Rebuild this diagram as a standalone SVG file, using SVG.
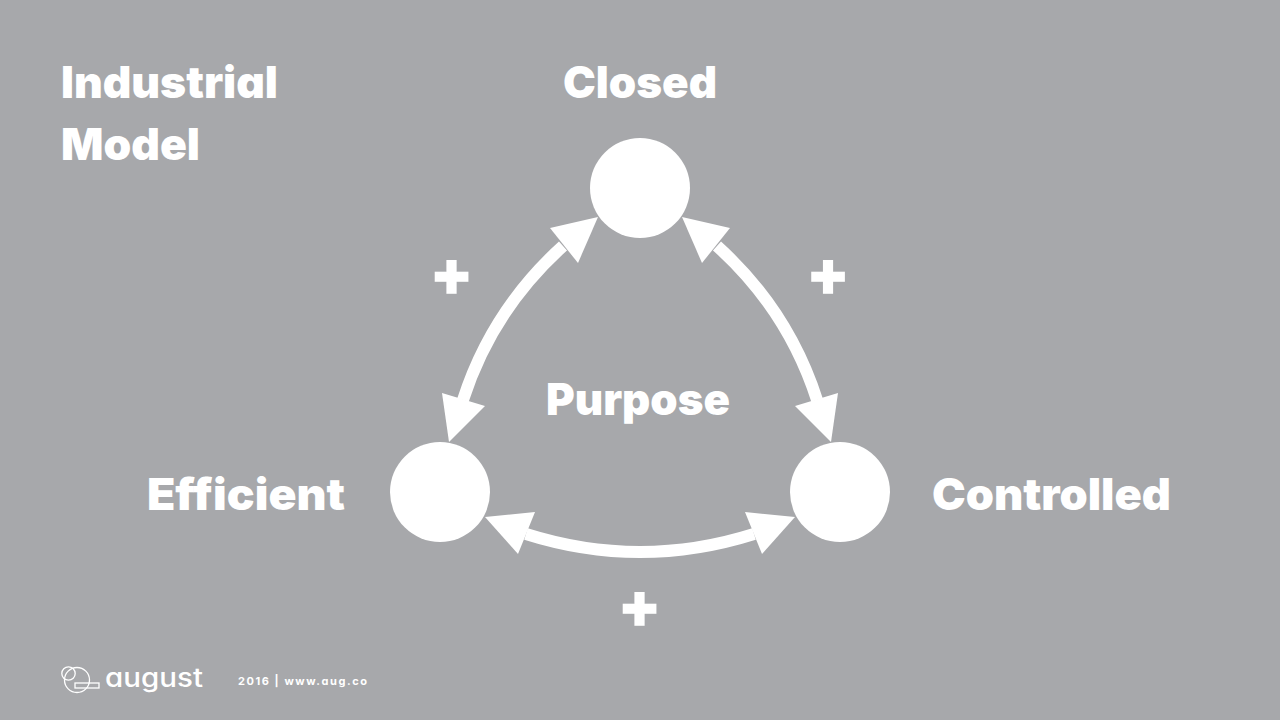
<svg xmlns="http://www.w3.org/2000/svg" width="1280" height="720" viewBox="0 0 1280 720">
<style>
.h{font-family:"Inter","Liberation Sans",sans-serif;font-weight:900;font-size:44px;fill:#fff;font-feature-settings:"cv11"}
.p{font-family:"Liberation Sans",sans-serif;font-weight:700;font-size:60px;fill:#fff;stroke:#fff;stroke-width:3.5;text-anchor:middle}
.n{fill:#fff}
.c{fill:none;stroke:#fff;stroke-width:12}
.a{fill:#fff}
.f{font-family:"Inter","Liberation Sans",sans-serif;font-weight:700;font-size:11px;fill:#fff;font-feature-settings:"cv11"}
.l{fill:none;stroke:#fff;stroke-width:1.3}
.g{font-family:"Inter","Liberation Sans",sans-serif;font-weight:500;font-size:26px;fill:#fff;font-feature-settings:"cv11"}
</style>
<rect width="1280" height="720" fill="#a7a8ab"/>
<g id="title"><text class="h" x="61" y="98" textLength="217" lengthAdjust="spacingAndGlyphs">Industrial</text><text class="h" x="61" y="160" textLength="139" lengthAdjust="spacingAndGlyphs">Model</text></g>
<g id="connectors">
<path class="c" d="M563 246Q492 310 463 400"/>
<path class="a" d="M598 217L550 228L578 263Z"/><path class="a" d="M449 442L442 393L485 406Z"/>
<path class="c" d="M717 246Q788 310 817 400"/>
<path class="a" d="M682 217L730 228L702 263Z"/><path class="a" d="M831 442L838 393L795 406Z"/>
<path class="c" d="M526 534Q640 570 754 534"/>
<path class="a" d="M485 517L535 512L518 554Z"/><path class="a" d="M795 517L745 512L762 554Z"/>
</g>
<g id="node-closed"><circle class="n" cx="640" cy="188" r="50"/><text class="h" x="563" y="98" textLength="154" lengthAdjust="spacingAndGlyphs">Closed</text></g>
<g id="node-efficient"><circle class="n" cx="440" cy="492" r="50"/><text class="h" x="147" y="510" textLength="198" lengthAdjust="spacingAndGlyphs">Efficient</text></g>
<g id="node-controlled"><circle class="n" cx="840" cy="492" r="50"/><text class="h" x="932" y="510" textLength="239" lengthAdjust="spacingAndGlyphs">Controlled</text></g>
<g id="center"><text class="h" x="546" y="415" textLength="184" lengthAdjust="spacingAndGlyphs">Purpose</text></g>
<g id="plus-marks"><text class="p" x="451.5" y="297">+</text><text class="p" x="828" y="297">+</text><text class="p" x="639.5" y="629">+</text></g>
<g id="footer">
<circle class="l" cx="68.5" cy="673.5" r="6.7"/><circle class="l" cx="77" cy="680" r="12.5"/><rect class="l" x="75" y="683" width="24" height="5"/>
<text class="g" x="105" y="687" textLength="98" lengthAdjust="spacingAndGlyphs">august</text>
<text class="f" x="238" y="685" textLength="129" lengthAdjust="spacing">2016 | www.aug.co</text>
</g>
</svg>
